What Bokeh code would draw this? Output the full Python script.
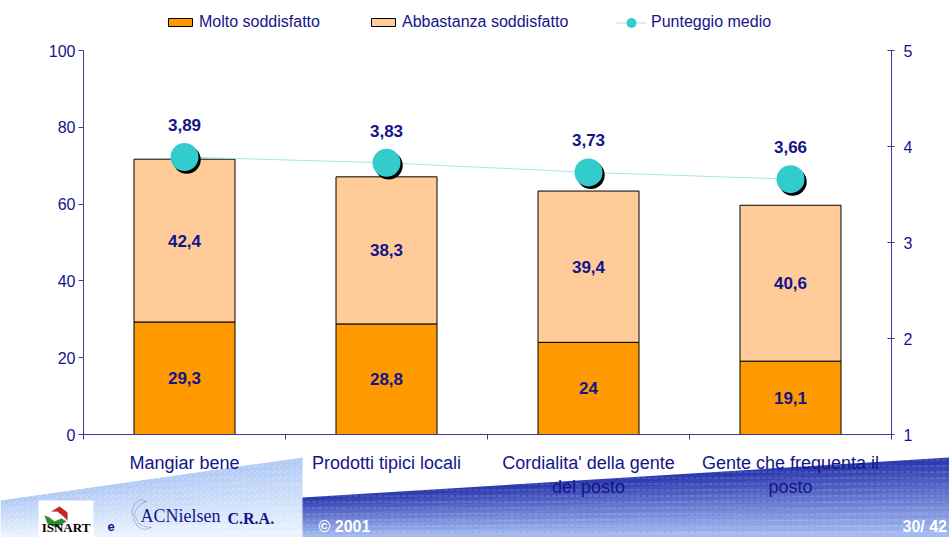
from bokeh.plotting import figure
from bokeh.models import (Range1d, LinearAxis, FixedTicker, ColumnDataSource, Legend,
                          LegendItem, PolyAnnotation, Label)
from bokeh.transform import dodge
from bokeh.core.properties import value
from bokeh.embed import file_html
from bokeh.resources import INLINE

# ---------------- data ----------------
categories = ["Mangiar bene", "Prodotti tipici locali",
              "Cordialita' della gente\ndel posto", "Gente che frequenta il\nposto"]
molto = [29.3, 28.8, 24, 19.1]
abbastanza = [42.4, 38.3, 39.4, 40.6]
punteggio = [3.89, 3.83, 3.73, 3.66]
left_ticks = [0, 20, 40, 60, 80, 100]
right_ticks = [1, 2, 3, 4, 5]
series_names = ["Molto soddisfatto", "Abbastanza soddisfatto", "Punteggio medio"]
footer_texts = ["ISNART", "e", "ACNielsen", "C.R.A.", "© 2001", "30/ 42"]

NAVY = "#14148A"
AXIS = "#3A3A9A"
FONT = "Liberation Sans"
W, H = 949, 537

# plot-area placement on the page (pixels): frame of the chart proper
PL, PR, PT, PB = 83, 891, 50, 434
N = len(categories)
YMAX = left_ticks[-1]
S0, S1 = right_ticks[0], right_ticks[-1]


def fmt(v):
    return f"{v:g}".replace(".", ",")


# the bokeh frame covers the whole canvas; ranges are chosen so that the chart's
# own area sits at PL..PR / PT..PB and all axes are fixed at their data positions
xu = (PR - PL) / N
yu = (PB - PT) / YMAX
su = (PB - PT) / (S1 - S0)
x_range = Range1d(-PL / xu, N + (W - PR) / xu)
y_range = Range1d(-(H - PB) / yu, YMAX + PT / yu)
s_range = Range1d(S0 - (H - PB) / su, S1 + PT / su)

xs = [i + 0.5 for i in range(N)]
src = ColumnDataSource(dict(
    x=xs,
    molto=molto,
    abbastanza=abbastanza,
    mid1=[m / 2 for m in molto],
    mid2=[m + a / 2 for m, a in zip(molto, abbastanza)],
    lab1=[fmt(v) for v in molto],
    lab2=[fmt(v) for v in abbastanza],
    score=punteggio,
    lab3=[fmt(v) for v in punteggio],
))

p = figure(width=W, height=H, x_range=x_range, y_range=y_range,
           output_backend="svg", toolbar_location=None, min_border=0,
           min_border_left=0, min_border_right=0, min_border_top=0, min_border_bottom=0)
p.outline_line_color = None
p.grid.visible = False
p.background_fill_color = "white"
p.border_fill_color = "white"
p.extra_y_ranges = {"score": s_range}


# ---------------- footer decoration (screen units = page pixels, y up) ----------------
def X(px):
    return px


def Y(py):
    return H - py


def lerp(c0, c1, t):
    return "#%02x%02x%02x" % tuple(int(round(a + (b - a) * t)) for a, b in zip(c0, c1))


def poly(pxs, pys, **kw):
    p.add_layout(PolyAnnotation(xs=[X(v) for v in pxs], ys=[Y(v) for v in pys],
                                xs_units="screen", ys_units="screen", level="underlay", **kw))


def bands(x0, x1, ytop0, ytop1, ybot, c0, c1, n, hatch, halpha):
    for k in range(n):
        a0, a1 = k / n, (k + 1) / n
        t0 = ytop0 + a0 * (ybot - ytop0)
        t1 = ytop1 + a0 * (ybot - ytop1)
        b0 = ytop0 + a1 * (ybot - ytop0) + 0.7
        b1 = ytop1 + a1 * (ybot - ytop1) + 0.7
        poly([x0, x1, x1, x0], [t0, t1, b1, b0], fill_color=lerp(c0, c1, (k + 0.5) / n),
             fill_alpha=1, line_color=None, hatch_pattern=hatch, hatch_color="white",
             hatch_alpha=halpha, hatch_scale=6, hatch_weight=1)


bands(0, 302, 500, 457, 537, (176, 202, 246), (238, 245, 254), 10, "right_diagonal_dash", 0.4)
bands(302, 949, 497, 457, 537, (40, 54, 172), (168, 192, 246), 12, "horizontal_dash", 0.22)

# ISNART logo box
poly([38, 93, 93, 38], [500, 500, 537, 537], fill_color="white", fill_alpha=1, line_color=None)
poly([44, 47, 55, 66, 61, 54, 49], [515, 523, 527, 521, 518, 521, 517],
     fill_color="#2E8B2E", fill_alpha=1, line_color="#666666", line_width=0.6)
poly([51, 59, 67, 67, 63, 57], [511, 506, 512, 520, 516, 511],
     fill_color="#D22020", fill_alpha=1, line_color="#666666", line_width=0.6)
# ACNielsen globe hint
poly([131, 134, 140, 146, 141, 136, 133], [512, 503, 499, 501, 503, 508, 516],
     fill_alpha=0, line_color=NAVY, line_width=0.8)
poly([133, 137, 144, 151, 144, 138, 135], [518, 526, 529, 527, 526, 523, 516],
     fill_alpha=0, line_color=NAVY, line_width=0.8)

for (px, py, txt, col, font, size, style, align) in zip(
        [65.5, 107, 140, 227, 318, 902],
        [527, 526, 515, 518, 526, 526],
        footer_texts,
        ["black", NAVY, NAVY, NAVY, "white", "white"],
        ["Liberation Serif", FONT, "Liberation Serif", "Liberation Serif", FONT, FONT],
        ["13px", "13px", "18px", "16px", "16px", "16px"],
        ["bold", "bold", "normal", "bold", "bold", "bold"],
        ["center", "left", "left", "left", "left", "left"]):
    p.add_layout(Label(x=X(px), y=Y(py), x_units="screen", y_units="screen", text=txt,
                       text_color=col, text_font=font, text_font_size=size,
                       text_font_style=style, text_align=align, text_baseline="middle"))

# ---------------- bars ----------------
bars = p.vbar_stack(["molto", "abbastanza"], x="x", width=0.5, source=src,
                    fill_color=["#FF9900", "#FFCC99"], line_color="black", line_width=1)

for ycol, tcol in [("mid1", "lab1"), ("mid2", "lab2")]:
    p.text(x="x", y=ycol, text=tcol, source=src, text_font=value(FONT),
           text_font_style="bold", text_font_size="17px", text_color=NAVY,
           text_align="center", text_baseline="middle")

# ---------------- score line ----------------
ln = p.line(x="x", y="score", source=src, y_range_name="score",
            line_color="#A6E6E6", line_width=1)
p.scatter(x=dodge("x", 0.011), y=dodge("score", -0.028), source=src, y_range_name="score",
          size=28, fill_color="black", line_color=None)
sc = p.scatter(x="x", y="score", source=src, y_range_name="score",
               size=28, fill_color="#33CCCC", line_color=None)
p.text(x="x", y="score", text="lab3", source=src, y_range_name="score", y_offset=-32,
       text_font=value(FONT), text_font_style="bold", text_font_size="17px",
       text_color=NAVY, text_align="center", text_baseline="middle")

# ---------------- axes (fixed at the chart's edges) ----------------
yax = p.yaxis[0]
yax.fixed_location = 0
yax.bounds = (0, YMAX)
yax.ticker = FixedTicker(ticks=left_ticks)
yax.minor_tick_line_color = None
yax.major_tick_out = 5
yax.major_tick_in = 0
yax.major_label_standoff = 3
yax.axis_line_color = AXIS
yax.major_tick_line_color = AXIS
yax.major_label_text_color = NAVY
yax.major_label_text_font = FONT
yax.major_label_text_font_size = "16px"

rax = LinearAxis(y_range_name="score", ticker=FixedTicker(ticks=right_ticks),
                 fixed_location=N, bounds=(S0, S1))
rax.minor_tick_line_color = None
rax.major_tick_in = 4
rax.major_tick_out = 3
rax.major_label_standoff = 9
rax.axis_line_color = AXIS
rax.major_tick_line_color = AXIS
rax.major_label_text_color = NAVY
rax.major_label_text_font = FONT
rax.major_label_text_font_size = "16px"
p.add_layout(rax, "right")

xax = p.xaxis[0]
xax.fixed_location = 0
xax.bounds = (0, N)
xax.ticker = FixedTicker(ticks=xs, minor_ticks=list(range(N + 1)))
xax.major_label_overrides = {x: c for x, c in zip(xs, categories)}
xax.major_tick_line_color = None
xax.major_tick_out = 0
xax.major_tick_in = 0
xax.minor_tick_out = 5
xax.minor_tick_in = 0
xax.minor_tick_line_color = AXIS
xax.axis_line_color = AXIS
xax.major_label_standoff = 13
xax.major_label_text_color = NAVY
xax.major_label_text_font = FONT
xax.major_label_text_font_size = "18px"

# ---------------- legends ----------------
leg_style = dict(orientation="horizontal", padding=0, margin=0, border_line_color=None,
                 background_fill_alpha=0, label_text_color=NAVY, label_text_font=FONT,
                 label_text_font_size="16px", glyph_width=30)
legend1 = Legend(items=[LegendItem(label=series_names[0], renderers=[bars[0]]),
                        LegendItem(label=series_names[1], renderers=[bars[1]])],
                 location=(165, H - 32), spacing=48, glyph_height=10, label_standoff=4,
                 label_height=20, **leg_style)
legend2 = Legend(items=[LegendItem(label=series_names[2], renderers=[ln, sc])],
                 location=(616, H - 34.5), glyph_height=25, label_standoff=5,
                 label_height=25, **leg_style)
p.add_layout(legend1)
p.add_layout(legend2)

open("out.html", "w").write(file_html(p, INLINE))
